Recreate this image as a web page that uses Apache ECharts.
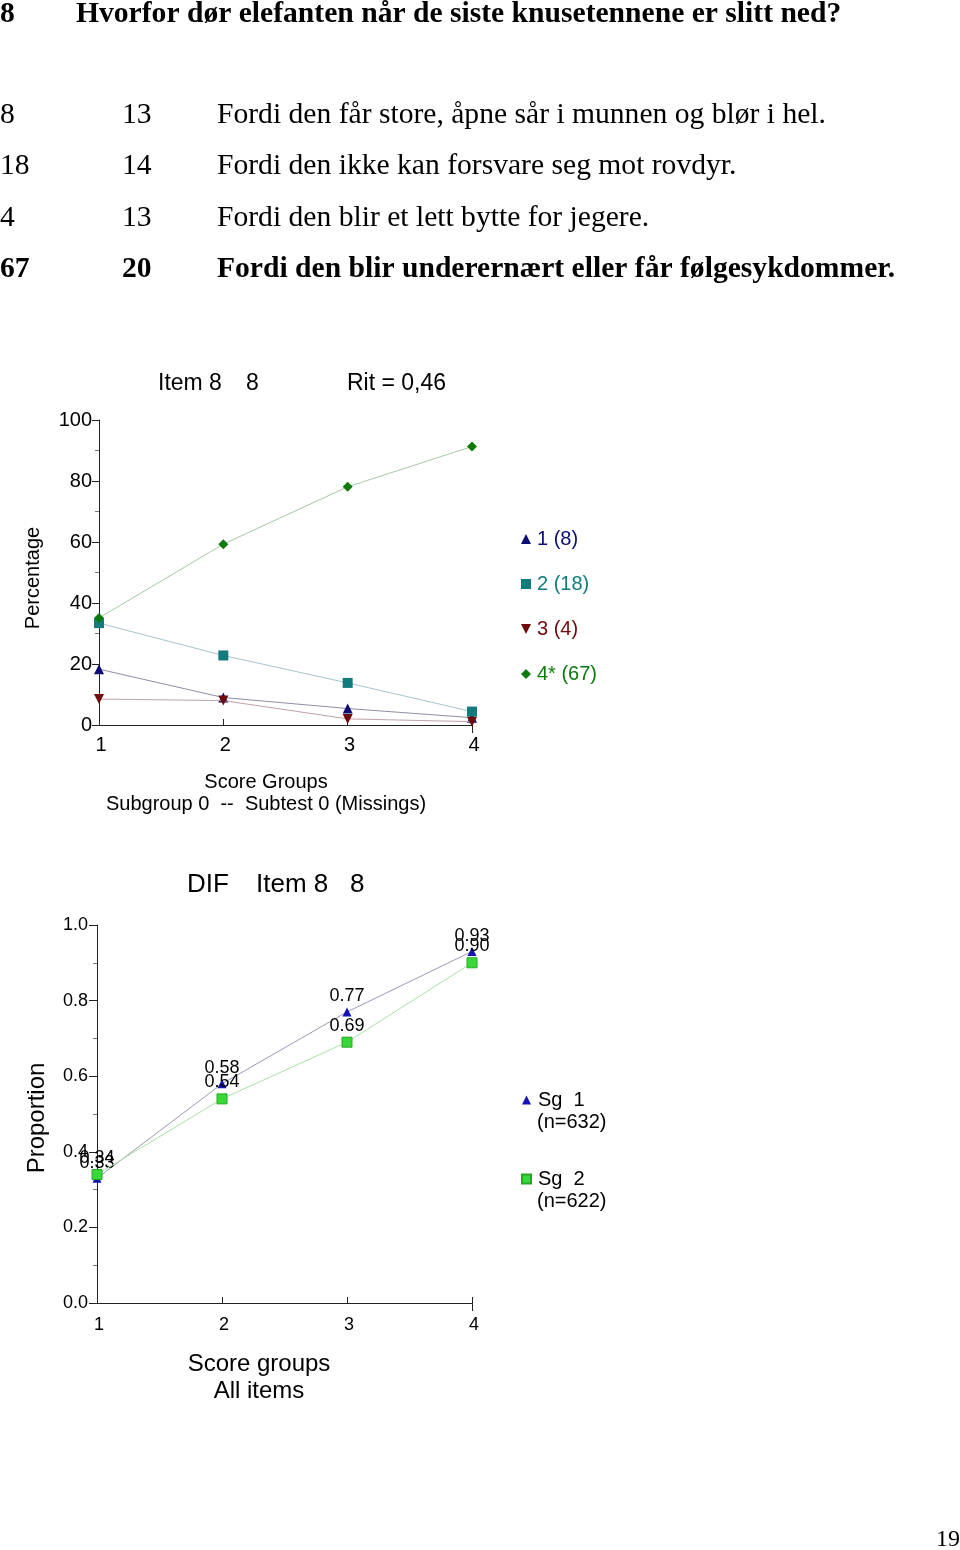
<!DOCTYPE html>
<html><head><meta charset="utf-8">
<script src="https://cdn.jsdelivr.net/npm/echarts@6/dist/echarts.min.js"></script>
<style>html,body{margin:0;padding:0;background:#fff}#c{width:960px;height:1550px}</style>
</head><body><div id="c"></div>
<script>
// ---------- data ----------
const itemNo = '8';
const question = 'Hvorfor dør elefanten når de siste knusetennene er slitt ned?';
const answerCounts = ['8', '18', '4', '67'];
const answerPercents = ['13', '14', '13', '20'];
const answerTexts = [
  'Fordi den får store, åpne sår i munnen og blør i hel.',
  'Fordi den ikke kan forsvare seg mot rovdyr.',
  'Fordi den blir et lett bytte for jegere.',
  'Fordi den blir underernært eller får følgesykdommer.'
];
const correctIndex = 3;
const ritValue = '0,46';
const pageNumber = '19';

const scoreGroups = ['1', '2', '3', '4'];
const optionNames = ['1 (8)', '2 (18)', '3 (4)', '4* (67)'];
const option1 = [18.3, 9.0, 5.4, 2.4];
const option2 = [33.4, 22.8, 13.8, 4.4];
const option3 = [8.5, 8.0, 2.0, 1.1];
const option4 = [35.1, 59.3, 78.1, 91.3];
const percentRange = [0, 100, 20];

const sgNames = ['Sg  1', 'Sg  2'];
const sgCounts = ['(n=632)', '(n=622)'];
const sg1 = [0.33, 0.58, 0.77, 0.93];
const sg2 = [0.34, 0.54, 0.69, 0.90];
const proportionRange = [0, 1, 0.2];

// ---------- styles ----------
const SANS = '"Liberation Sans", Arial, Helvetica, sans-serif';
const SERIF = '"Liberation Serif", "Times New Roman", serif';
const AX = { color: '#222', width: 1 };
const optColors = ['#0c0c72', '#127c7c', '#6e0a0a', '#0c7a0c'];
const optLineColors = ['#8e8ea6', '#a6c4cc', '#c2a2a6', '#a6c8a6'];
const optSymbols = ['triangle', 'rect', 'triangle', 'diamond'];
const optRotate = [0, 0, 180, 0];
const optIcons = ['triangle', 'rect', 'path://M0,0L10,0L5,10Z', 'diamond'];
const sgColors = ['#1414b4', '#38d838'];
const sgLineColors = ['#9a9ab6', '#a8e2a8'];
const sgSymbols = ['triangle', 'rect'];
const HEAD = 29.6;

function txt(text, x, y, size, opts) {
  opts = opts || {};
  return {
    type: 'text', x: x, y: y, rotation: opts.rotation || 0, silent: true,
    style: {
      text: text, fill: opts.color || '#000',
      font: (opts.bold ? 'bold ' : '') + size + 'px ' + (opts.family || SANS),
      textAlign: opts.align || 'left', textVerticalAlign: 'middle'
    }
  };
}

const graphics = [];
// header
graphics.push(txt(itemNo, 0, 14, HEAD, { family: SERIF, bold: true }));
graphics.push(txt(question, 76, 14, HEAD, { family: SERIF, bold: true }));
const rowY = [115, 166, 218, 269];
answerTexts.forEach((t, i) => {
  const b = i === correctIndex;
  graphics.push(txt(answerCounts[i], 0, rowY[i], HEAD, { family: SERIF, bold: b }));
  graphics.push(txt(answerPercents[i], 122, rowY[i], HEAD, { family: SERIF, bold: b }));
  graphics.push(txt(t, 217, rowY[i], HEAD, { family: SERIF, bold: b }));
});
// top chart texts
graphics.push(txt('Item ' + itemNo, 158, 384, 23));
graphics.push(txt(itemNo, 246, 384, 23));
graphics.push(txt('Rit = ' + ritValue, 347, 384, 23));
graphics.push(txt('Percentage', 33, 578, 20, { align: 'center', rotation: Math.PI / 2 }));
graphics.push(txt('Score Groups', 266, 782, 20, { align: 'center' }));
graphics.push(txt('Subgroup 0  --  Subtest 0 (Missings)', 266, 804, 20, { align: 'center' }));
// bottom chart texts
graphics.push(txt('DIF', 187, 885, 26));
graphics.push(txt('Item ' + itemNo, 256, 885, 26));
graphics.push(txt(itemNo, 350, 885, 26));
graphics.push(txt('Proportion', 37, 1118, 24, { align: 'center', rotation: Math.PI / 2 }));
graphics.push(txt('Score groups', 259, 1364, 24, { align: 'center' }));
graphics.push(txt('All items', 259, 1391, 24, { align: 'center' }));
graphics.push(txt(sgCounts[0], 537, 1122, 20));
graphics.push(txt(sgCounts[1], 537, 1201, 20));
graphics.push(txt(pageNumber, 948, 1540, 24, { family: SERIF, align: 'center' }));

function xAxes(gridIndex, fontSize, margin) {
  return [
    {
      gridIndex: gridIndex, type: 'category', data: scoreGroups, boundaryGap: false, position: 'bottom',
      axisLine: { lineStyle: AX },
      axisTick: { show: true, inside: true, length: 6, lineStyle: AX, interval: (i) => i > 0 },
      axisLabel: { fontSize: fontSize, color: '#000', fontFamily: SANS, margin: margin, padding: [0, 0, 0, 4] },
      splitLine: { show: false }
    },
    {
      gridIndex: gridIndex, type: 'category', data: scoreGroups, boundaryGap: false, position: 'bottom',
      axisLine: { show: false },
      axisTick: { show: true, inside: false, length: 8, lineStyle: AX, interval: (i) => i === 3 },
      axisLabel: { show: false }, splitLine: { show: false }
    }
  ];
}

const series = [];
[option1, option2, option3, option4].forEach((d, i) => {
  series.push({
    name: optionNames[i], type: 'line', xAxisIndex: 0, yAxisIndex: 0, data: d,
    symbol: optSymbols[i], symbolSize: 10, symbolRotate: optRotate[i], showAllSymbol: true,
    itemStyle: { color: optColors[i] }, lineStyle: { color: optLineColors[i], width: 1 },
    emphasis: { disabled: true }, silent: true, z: 2 + i
  });
});
[sg1, sg2].forEach((d, i) => {
  series.push({
    name: sgNames[i], type: 'line', xAxisIndex: 2, yAxisIndex: 1, data: d,
    symbol: sgSymbols[i], symbolSize: i === 1 ? 10 : 9, showAllSymbol: true,
    itemStyle: { color: sgColors[i], borderColor: i === 1 ? '#26a826' : sgColors[i], borderWidth: i === 1 ? 1 : 0 },
    lineStyle: { color: sgLineColors[i], width: 1 },
    label: { show: true, position: 'top', distance: 2, color: '#000', fontSize: 18, fontFamily: SANS,
      formatter: (p) => p.value.toFixed(2) },
    emphasis: { disabled: true }, silent: true, z: 2 + i
  });
});

const chart = echarts.init(document.getElementById('c'), null, { renderer: 'canvas' });
chart.setOption({
  animation: false,
  backgroundColor: '#fff',
  textStyle: { fontFamily: SANS },
  grid: [
    { left: 99, top: 420, width: 373, height: 305 },
    { left: 97, top: 925, width: 375, height: 378 }
  ],
  xAxis: xAxes(0, 20, 10).concat(xAxes(1, 18, 13)),
  yAxis: [
    {
      gridIndex: 0, type: 'value', min: percentRange[0], max: percentRange[1], interval: percentRange[2],
      axisLine: { show: true, lineStyle: AX },
      axisTick: { show: true, length: 7, lineStyle: AX },
      minorTick: { show: true, splitNumber: 2, length: 4, lineStyle: { color: '#777' } },
      splitLine: { show: false },
      axisLabel: { fontSize: 20, color: '#000', fontFamily: SANS, margin: 7 }
    },
    {
      gridIndex: 1, type: 'value', min: proportionRange[0], max: proportionRange[1], interval: proportionRange[2],
      axisLine: { show: true, lineStyle: AX },
      axisTick: { show: true, length: 8, lineStyle: AX },
      minorTick: { show: true, splitNumber: 2, length: 4, lineStyle: { color: '#777' } },
      splitLine: { show: false },
      axisLabel: { fontSize: 18, color: '#000', fontFamily: SANS, margin: 9, formatter: (v) => v.toFixed(1) }
    }
  ],
  legend: [
    {
      orient: 'vertical', left: 516, top: 524, itemWidth: 10, itemHeight: 10, itemGap: 25,
      symbolKeepAspect: true,
      selectedMode: false, textStyle: { fontSize: 20, fontFamily: SANS, padding: [0, 0, 0, 1] },
      data: optionNames.map((n, i) => ({ name: n, icon: optIcons[i], itemStyle: { color: optColors[i] },
        textStyle: { color: optColors[i] } }))
    },
    {
      orient: 'vertical', left: 516, top: 1085, itemWidth: 9, itemHeight: 9, itemGap: 59,
      symbolKeepAspect: true,
      selectedMode: false, textStyle: { fontSize: 20, fontFamily: SANS, color: '#000', padding: [0, 0, 0, 2] },
      data: sgNames.map((n, i) => ({ name: n, icon: sgSymbols[i] }))
    }
  ],
  graphic: graphics,
  series: series
});
</script>
</body></html>
